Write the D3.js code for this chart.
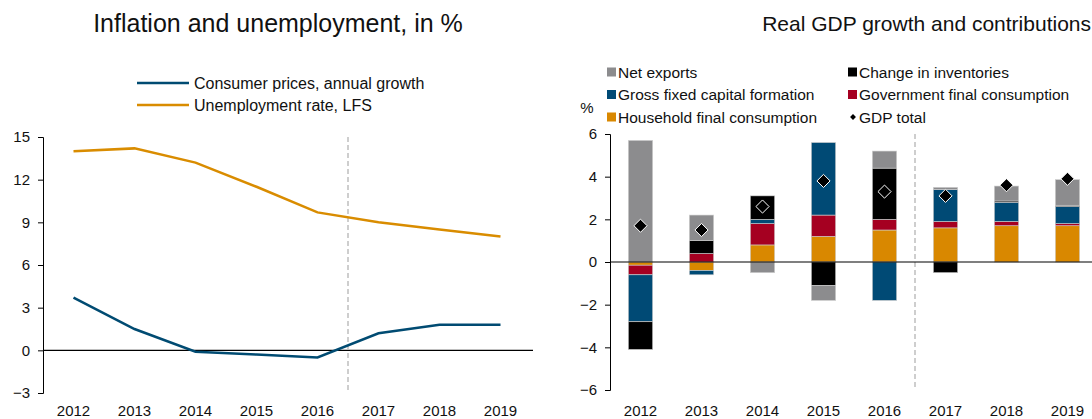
<!DOCTYPE html>
<html lang="en">
<head>
<meta charset="UTF-8">
<title>Inflation, unemployment and GDP growth</title>
<script src="https://d3js.org/d3.v7.min.js"></script>
<style>
    body { margin: 0; background: #fff; }
    svg * { font-family: 'Liberation Sans', Arial, sans-serif; }
</style>
</head>
<body>
<svg id="chart" width="1092" height="419"></svg>
<script>
    const years = ['2012', '2013', '2014', '2015', '2016', '2017', '2018', '2019'];

    // left panel
    const consumerPrices = [3.7, 1.5, -0.1, -0.3, -0.5, 1.2, 1.8, 1.8];
    const unemployment = [14.0, 14.2, 13.2, 11.5, 9.7, 9.0, 8.5, 8.0];
    const leftTicks = [-3, 0, 3, 6, 9, 12, 15];

    // right panel, contributions in percentage points
    const household = [-0.15, -0.4, 0.8, 1.2, 1.5, 1.6, 1.7, 1.7];
    const government = [-0.45, 0.4, 1.0, 1.0, 0.5, 0.3, 0.2, 0.1];
    const gfcf = [-2.2, -0.2, 0.2, 3.4, -1.8, 1.5, 0.9, 0.8];
    const inventories = [-1.3, 0.6, 1.1, -1.1, 2.4, -0.5, 0.06, 0.06];
    const netExports = [5.7, 1.2, -0.5, -0.7, 0.8, 0.1, 0.7, 1.2];
    const gdpTotal = [1.7, 1.5, 2.6, 3.8, 3.3, 3.1, 3.6, 3.9];
    const rightTicks = [-6, -4, -2, 0, 2, 4, 6];

    const svg = d3.select('#chart');

    // ---------- left: lines ----------
    const xL = d3.scaleBand().domain(years).range([43, 531]);
    const yL = d3.scaleLinear().domain([-3, 15]).range([393, 137]);

    svg.append('text').attr('x', 278).attr('y', 32).attr('text-anchor', 'middle')
        .attr('font-size', 25).attr('fill', '#111').text('Inflation and unemployment, in %');

    const axL = svg.append('g').attr('transform', 'translate(43,0)')
        .call(d3.axisLeft(yL).tickValues(leftTicks).tickSize(5).tickPadding(8));
    axL.selectAll('text').attr('font-size', 15).attr('fill', '#111');
    axL.selectAll('line, path').attr('stroke', '#000');

    svg.append('line').attr('x1', 43).attr('x2', 533)
        .attr('y1', yL(0)).attr('y2', yL(0)).attr('stroke', '#000').attr('stroke-width', 1.2);

    svg.append('line').attr('x1', xL('2017')).attr('x2', xL('2017'))
        .attr('y1', yL(15)).attr('y2', yL(-3))
        .attr('stroke', '#BFBFBF').attr('stroke-width', 1.5).attr('stroke-dasharray', '5,3');

    const xAxL = svg.append('g').attr('transform', 'translate(0,393)')
        .call(d3.axisBottom(xL).tickSize(0).tickPadding(12));
    xAxL.select('.domain').remove();
    xAxL.selectAll('text').attr('font-size', 15).attr('fill', '#111');

    const line = d3.line().x((d, i) => xL(years[i]) + xL.bandwidth() / 2).y(d => yL(d));
    svg.append('path').datum(unemployment).attr('d', line).attr('fill', 'none')
        .attr('stroke', '#D98C00').attr('stroke-width', 2.5);
    svg.append('path').datum(consumerPrices).attr('d', line).attr('fill', 'none')
        .attr('stroke', '#004B72').attr('stroke-width', 2.5);

    const legL = [['Consumer prices, annual growth', '#004B72'], ['Unemployment rate, LFS', '#D98C00']];
    legL.forEach((d, i) => {
        const y = 83 + i * 22;
        svg.append('line').attr('x1', 137).attr('x2', 189).attr('y1', y).attr('y2', y)
            .attr('stroke', d[1]).attr('stroke-width', 2.5);
        svg.append('text').attr('x', 194).attr('y', y + 5.5).attr('font-size', 16)
            .attr('fill', '#111').text(d[0]);
    });

    // ---------- right: stacked bars ----------
    const xR = d3.scaleBand().domain(years).range([610, 1098]).paddingInner(0.6).paddingOuter(0.3);
    const yR = d3.scaleLinear().domain([-6, 6]).range([390, 134]);

    svg.append('text').attr('x', 1091).attr('y', 31).attr('text-anchor', 'end')
        .attr('font-size', 21).attr('fill', '#111').text('Real GDP growth and contributions');

    const axR = svg.append('g').attr('transform', 'translate(610,0)')
        .call(d3.axisLeft(yR).tickValues(rightTicks).tickSize(5).tickPadding(8));
    axR.selectAll('text').attr('font-size', 15).attr('fill', '#111');
    axR.selectAll('line, path').attr('stroke', '#000');

    svg.append('text').attr('x', 587).attr('y', 113).attr('text-anchor', 'middle')
        .attr('font-size', 15).attr('fill', '#111').text('%');

    const seriesKeys = ['household', 'government', 'gfcf', 'inventories', 'netExports'];
    const seriesVals = [household, government, gfcf, inventories, netExports];
    const colors = {
        household: '#D98800', government: '#A50021', gfcf: '#004A75',
        inventories: '#000000', netExports: '#8C8C8E'
    };
    const rows = years.map((y, i) => {
        const r = { year: y };
        seriesKeys.forEach((k, j) => r[k] = seriesVals[j][i]);
        return r;
    });
    const stacked = d3.stack().keys(seriesKeys).offset(d3.stackOffsetDiverging)(rows);

    const splitX = xR('2017') - xR.step() * xR.paddingInner() / 2;
    svg.append('line').attr('x1', splitX).attr('x2', splitX)
        .attr('y1', yR(6)).attr('y2', yR(-6))
        .attr('stroke', '#BFBFBF').attr('stroke-width', 1.5).attr('stroke-dasharray', '5,3');

    svg.append('g').selectAll('g').data(stacked).join('g')
        .attr('fill', d => colors[d.key])
        .selectAll('rect').data(d => d).join('rect')
        .attr('x', d => xR(d.data.year))
        .attr('y', d => yR(Math.max(d[0], d[1])))
        .attr('width', xR.bandwidth())
        .attr('height', d => Math.abs(yR(d[0]) - yR(d[1])))
        .attr('stroke', '#d0d0d0').attr('stroke-width', 0.6);

    svg.append('line').attr('x1', 610).attr('x2', 1092)
        .attr('y1', yR(0)).attr('y2', yR(0)).attr('stroke', '#000').attr('stroke-width', 1.2);

    const diamond = d3.symbol().type(d3.symbolDiamond2).size(110);
    svg.append('g').selectAll('path').data(gdpTotal).join('path')
        .attr('d', diamond)
        .attr('transform', (d, i) => `translate(${xR(years[i]) + xR.bandwidth() / 2},${yR(d)})`)
        .attr('fill', '#000').attr('stroke', '#fff').attr('stroke-width', 1);

    const xAxR = svg.append('g').attr('transform', 'translate(0,390)')
        .call(d3.axisBottom(xR).tickSize(0).tickPadding(15));
    xAxR.select('.domain').remove();
    xAxR.selectAll('text').attr('font-size', 15).attr('fill', '#111');

    const legR = [
        ['Net exports', colors.netExports, 0, 0], ['Change in inventories', colors.inventories, 1, 0],
        ['Gross fixed capital formation', colors.gfcf, 0, 1], ['Government final consumption', colors.government, 1, 1],
        ['Household final consumption', colors.household, 0, 2], ['GDP total', null, 1, 2]
    ];
    legR.forEach(d => {
        const x = d[2] === 0 ? 607 : 848;
        const y = 72 + d[3] * 22.5;
        if (d[1]) {
            svg.append('rect').attr('x', x).attr('y', y - 4.5).attr('width', 9).attr('height', 9).attr('fill', d[1]);
        } else {
            svg.append('path').attr('d', d3.symbol().type(d3.symbolDiamond2).size(22))
                .attr('transform', `translate(${x + 5},${y})`).attr('fill', '#000');
        }
        svg.append('text').attr('x', x + 11).attr('y', y + 5.5).attr('font-size', 15.5)
            .attr('fill', '#111').text(d[0]);
    });
</script>
</body>
</html>
